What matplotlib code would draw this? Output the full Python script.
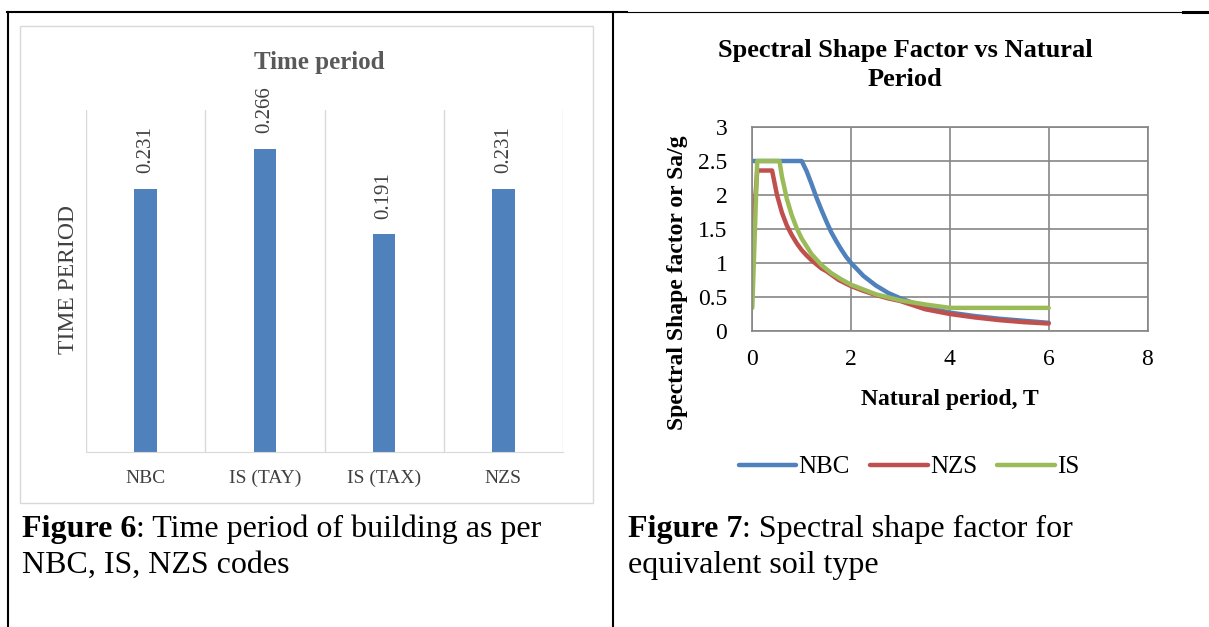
from matplotlib import pyplot as plt
from matplotlib.lines import Line2D
from matplotlib.patches import Rectangle

plt.rcParams['font.family'] = ['Liberation Serif', 'DejaVu Serif']

# Figure 6 data: fundamental time period per code.
codes = ['NBC', 'IS (TAY)', 'IS (TAX)', 'NZS']
time_period = [0.231, 0.266, 0.191, 0.231]

# Figure 7 data: spectral shape factor.
nbc_T = [0, 0.5, 1.0, 1.1, 1.2, 1.3, 1.4, 1.5, 1.6, 1.7, 1.8, 1.9, 2.0,
         2.25, 2.5, 2.75, 3.0, 3.5, 4.0, 4.5, 5.0, 5.5, 6.0]
nbc_sa = [2.5, 2.5, 2.5, 2.35, 2.16, 1.96, 1.78, 1.61, 1.45, 1.32, 1.2, 1.09, 1.0,
          0.81, 0.67, 0.56, 0.48, 0.35, 0.27, 0.22, 0.18, 0.15, 0.12]
nzs_T = [0, 0.1, 0.2, 0.3, 0.4, 0.5, 0.6, 0.7, 0.8, 0.9, 1.0, 1.1, 1.2, 1.3, 1.4,
         1.5, 1.75, 2.0, 2.25, 2.5, 2.75, 3.0, 3.5, 4.0, 4.5, 5.0, 5.5, 6.0]
nzs_sa = [1.33, 2.36, 2.36, 2.36, 2.36, 2.0, 1.74, 1.55, 1.41, 1.29, 1.19, 1.11, 1.04,
          0.98, 0.92, 0.88, 0.75, 0.66, 0.59, 0.53, 0.48, 0.44, 0.32, 0.25, 0.2,
          0.16, 0.13, 0.11]
is_T = [0, 0.1, 0.55, 0.6, 0.7, 0.8, 0.9, 1.0, 1.2, 1.4, 1.6, 1.8, 2.0, 2.5,
        3.0, 3.5, 4.0, 5.0, 6.0]
is_sa = [0.34, 2.5, 2.5, 2.27, 1.94, 1.7, 1.51, 1.36, 1.13, 0.97, 0.85, 0.76, 0.68,
         0.54, 0.45, 0.39, 0.34, 0.34, 0.34]

W, H = 1209, 627
fig = plt.figure(figsize=(W / 100, H / 100), dpi=100)


def fx(x):
    # pixel column -> figure fraction
    return x / W


def fy(y):
    # pixel row (from top) -> figure fraction
    return 1 - y / H


def hline(x0, x1, y, lw):
    fig.add_artist(Line2D([fx(x0), fx(x1)], [fy(y), fy(y)], color='black',
                          lw=lw, transform=fig.transFigure))


def vline(x, y0, y1, lw):
    fig.add_artist(Line2D([fx(x), fx(x)], [fy(y0), fy(y1)], color='black',
                          lw=lw, transform=fig.transFigure))


def caption(x, y, bold, rest, size=23):
    """Bold figure number followed by regular text on the same baseline."""
    t = fig.text(fx(x), fy(y), bold, fontsize=size, weight='bold', va='baseline')
    bb = t.get_window_extent(fig.canvas.get_renderer())
    fig.text(bb.x1 / W, fy(y), rest, fontsize=size, va='baseline')


# Table borders of the document.
hline(7, 627, 12, 1.5)
hline(627, 1183, 12, 0.8)
hline(1183, 1209, 12, 2.2)
vline(7.5, 12, 627, 1.5)
vline(613, 12, 627, 1.5)

# ---- Figure 6: bar chart ----
fig.add_artist(Rectangle((fx(20), fy(503)), 573 / W, 477 / H, fill=False,
                         edgecolor='#D9D9D9', lw=1, transform=fig.transFigure))

ax1 = fig.add_axes([fx(86), fy(452), 477 / W, 342 / H])
x = range(len(codes))
ax1.bar(x, time_period, width=0.19, color='#4F81BD', zorder=2)
ax1.set_xlim(-0.5, 3.5)
ax1.set_ylim(0, 0.3)
ax1.set_xticks(list(x))
ax1.set_xticklabels(codes, fontsize=14, color='#404040')
ax1.set_xticks([-0.5, 0.5, 1.5, 2.5, 3.5], minor=True)
ax1.grid(which='minor', axis='x', color='#D9D9D9', lw=1)
ax1.tick_params(which='both', length=0)
ax1.tick_params(axis='x', pad=13)
ax1.set_yticks([])
for side in ['top', 'left', 'right']:
    ax1.spines[side].set_visible(False)
ax1.spines['bottom'].set_color('#D9D9D9')

for i, v in enumerate(time_period):
    ax1.annotate(f'{v:.3f}', xy=(i, v), xytext=(0, 11), textcoords='offset points',
                 rotation=90, ha='center', va='bottom', fontsize=15, color='#404040')

fig.text(fx(319), fy(63), 'Time period', ha='center', va='center', fontsize=18,
         weight='bold', color='#595959')
fig.text(fx(68), fy(280), 'TIME PERIOD', rotation=90, ha='center', va='center',
         fontsize=17, color='#404040')

caption(22, 537, 'Figure 6', ': Time period of building as per')
fig.text(fx(22), fy(573), 'NBC, IS, NZS codes', fontsize=23, va='baseline')

# ---- Figure 7: spectral shape factor ----
ax2 = fig.add_axes([fx(752.3), fy(331), 395.2 / W, 204 / H])
ax2.plot(nbc_T, nbc_sa, color='#4F81BD', lw=3.2, solid_capstyle='round', label='NBC')
ax2.plot(nzs_T, nzs_sa, color='#C0504D', lw=3.2, solid_capstyle='round', label='NZS')
ax2.plot(is_T, is_sa, color='#9BBB59', lw=3.2, solid_capstyle='round', label='IS')
ax2.set_xlim(0, 8)
ax2.set_ylim(0, 3)
ax2.set_xticks([0, 2, 4, 6, 8])
ax2.set_yticks([0, 0.5, 1, 1.5, 2, 2.5, 3])
ax2.set_yticklabels(['0', '0.5', '1', '1.5', '2', '2.5', '3'])
ax2.tick_params(length=0, labelsize=17)
ax2.tick_params(axis='y', pad=18)
ax2.tick_params(axis='x', pad=13)
ax2.grid(color='#868686', lw=1.2)
ax2.set_axisbelow(True)
for side in ax2.spines:
    ax2.spines[side].set_color('#868686')
    ax2.spines[side].set_linewidth(1.2)

fig.text(fx(905), fy(65), 'Spectral Shape Factor vs Natural\nPeriod', ha='center',
         va='center', fontsize=19, weight='bold', linespacing=1.35)
fig.text(fx(950), fy(400), 'Natural period, T', ha='center', va='center',
         fontsize=17, weight='bold')
fig.text(fx(677), fy(283), 'Spectral Shape factor or Sa/g', rotation=90,
         ha='center', va='center', fontsize=17, weight='bold')
ax2.legend(loc='center', bbox_to_anchor=(fx(909), fy(467)), bbox_transform=fig.transFigure,
           ncol=3, frameon=False, fontsize=18, handlelength=2.3, handletextpad=0.1,
           columnspacing=0.8)

caption(628, 537, 'Figure 7', ': Spectral shape factor for')
fig.text(fx(628), fy(573), 'equivalent soil type', fontsize=23, va='baseline')

fig.savefig('out.png', dpi=100)
